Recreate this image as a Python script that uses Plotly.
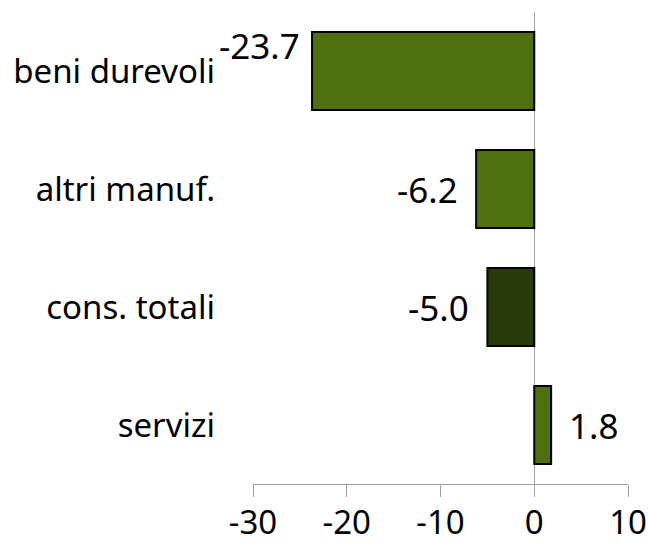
import plotly.graph_objects as go

categories = ["beni durevoli", "altri manuf.", "cons. totali", "servizi"]
values = [-23.7, -6.2, -5.0, 1.8]
bar_colors = ["#4e7011", "#4e7011", "#2a3a08", "#4e7011"]
label_texts = ["-23.7", "-6.2", "-5.0", "1.8"]
x_ticks = [-30, -20, -10, 0, 10]

FONT = "Noto Sans"

fig = go.Figure()
fig.add_trace(go.Bar(
    y=categories, x=values, orientation="h",
    marker=dict(color=bar_colors, line=dict(color="black", width=2)),
    width=0.66, hoverinfo="skip",
))

for cat, v, t in zip(categories, values, label_texts):
    if v < 0:
        yshift = 26 if v < -20 else 0
        fig.add_annotation(x=v, y=cat, text=t, showarrow=False, xanchor="right",
                           xshift=-10 if v < -20 else -16, yshift=yshift,
                           font=dict(size=35, color="black", family=FONT))
    else:
        fig.add_annotation(x=v, y=cat, text=t, showarrow=False, xanchor="left",
                           xshift=16, font=dict(size=35, color="black", family=FONT))

fig.update_layout(
    width=648, height=544,
    margin=dict(l=253, r=20, t=12, b=60),
    paper_bgcolor="white", plot_bgcolor="white",
    showlegend=False,
    font=dict(family=FONT, color="black"),
    xaxis=dict(range=[-30, 10], tickvals=x_ticks, ticktext=[str(v) for v in x_ticks],
               automargin=False,
               showgrid=False, zeroline=True, zerolinecolor="#a0a0a0", zerolinewidth=1,
               showline=True, linecolor="#a0a0a0", linewidth=1,
               ticks="outside", ticklen=12, tickcolor="#a0a0a0", tickwidth=1,
               ticklabelstandoff=-3,
               tickfont=dict(size=33, family=FONT, color="black")),
    yaxis=dict(categoryorder="array", categoryarray=categories[::-1],
               automargin=False,
               showgrid=False, zeroline=False, showline=False, ticks="",
               ticklabelstandoff=37,
               tickfont=dict(size=33, family=FONT, color="black")),
)

fig.write_html(
    "out.html",
    config={"displayModeBar": False},
    post_script="document.body.style.margin='0';document.body.style.overflow='hidden';",
)
